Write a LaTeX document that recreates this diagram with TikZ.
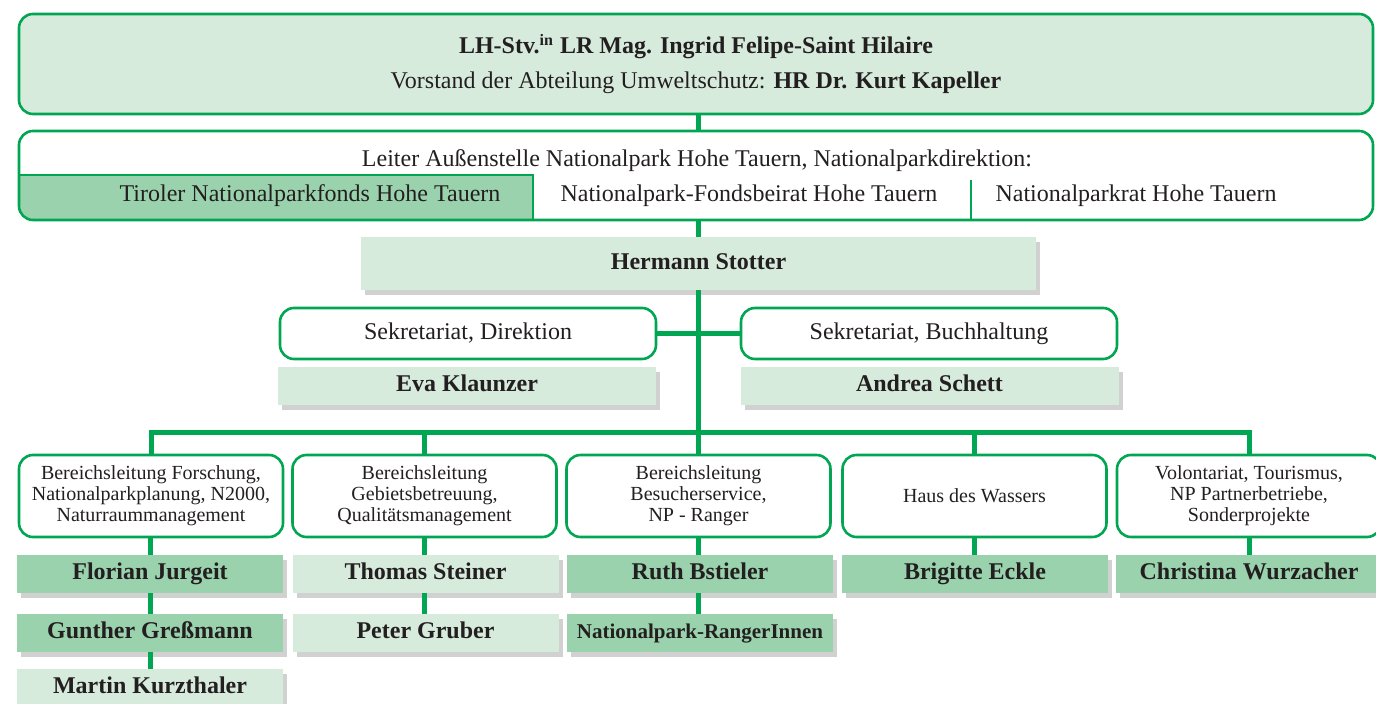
\documentclass[tikz,border=0pt]{standalone}
\usepackage{fontspec}
\setmainfont{Liberation Serif}
\usepackage{tikz}
\usetikzlibrary{positioning,shadows}
\definecolor{npgreen}{RGB}{0,166,81}
\definecolor{palegreen}{RGB}{215,235,221}
\definecolor{midgreen}{RGB}{153,210,172}
\definecolor{inkgray}{RGB}{35,31,32}
\tikzset{
  headbox/.style={draw=npgreen,line width=1.3pt,rounded corners=7pt,fill=palegreen,
    minimum width=677pt,minimum height=50pt,inner sep=0pt,align=center,text=inkgray,
    font=\fontsize{12}{17.5}\selectfont},
  leadbox/.style={draw=npgreen,line width=1.3pt,rounded corners=7pt,
    minimum width=677pt,minimum height=44.5pt,inner sep=0pt},
  celltext/.style={inner sep=0pt,text=inkgray,font=\fontsize{12}{14}\selectfont},
  cellline/.style={draw=npgreen,line width=1.3pt},
  officebox/.style={draw=npgreen,line width=1.3pt,rounded corners=7pt,fill=white,
    minimum width=188pt,minimum height=25.5pt,inner sep=0pt,text=inkgray,
    text height=8.5pt,text depth=2.6pt,font=\fontsize{12}{14}\selectfont},
  unitbox/.style={draw=npgreen,line width=1.3pt,rounded corners=7pt,fill=white,
    minimum width=132pt,minimum height=41pt,inner sep=0pt,align=center,text=inkgray,
    font=\fontsize{10}{10.5}\selectfont},
  namebox/.style={fill=palegreen,inner sep=0pt,minimum width=133pt,minimum height=19pt,
    text height=8.5pt,text depth=2.6pt,
    text=inkgray,font=\bfseries\fontsize{12}{14}\selectfont,
    drop shadow={shadow xshift=2pt,shadow yshift=-2.5pt,fill=black!45,opacity=0.4}},
  namedark/.style={namebox,fill=midgreen},
  spineline/.style={draw=npgreen,line width=2.5pt}
}

\begin{document}
\begin{tikzpicture}[x=0.5pt,y=-0.5pt]
  \useasboundingbox (0,0) rectangle (1376,704);
  % Landesregierung
  \node[headbox] (top) at (696,64)
    {\textbf{LH-Stv.\textsuperscript{in} LR Mag. Ingrid Felipe-Saint Hilaire}\\
     Vorstand der Abteilung Umweltschutz: \textbf{HR Dr. Kurt Kapeller}};
  % Nationalparkdirektion
  \begin{scope}
    \clip[rounded corners=7pt] (19,131) rectangle (1373,220);
    \fill[midgreen] (19,175) rectangle (533,220);
  \end{scope}
  \node[leadbox] (lead) at (696,175.5) {};
  \draw[cellline] (19,175) -- (533,175) -- (533,220);
  \draw[cellline] (971,180) -- (971,220);
  \node[celltext] (leadtitle) at (697,161)
    {Leiter Außenstelle Nationalpark Hohe Tauern, Nationalparkdirektion:};
  \node[celltext] (fonds) at (310,196) {Tiroler Nationalparkfonds Hohe Tauern};
  \node[celltext] (beirat) at (749,196) {Nationalpark-Fondsbeirat Hohe Tauern};
  \node[celltext] (rat) at (1136,196) {Nationalparkrat Hohe Tauern};
  % Direktor und Sekretariate
  \node[namebox,minimum width=337.5pt,minimum height=26.5pt] (hs) at (698.5,263.5) {Hermann Stotter};
  \node[officebox] (sekL) at (468,333.5) {Sekretariat, Direktion};
  \node[officebox] (sekR) at (929,333.5) {Sekretariat, Buchhaltung};
  \node[namebox,minimum width=189pt] (eva) at (467,386) {Eva Klaunzer};
  \node[namebox,minimum width=189pt] (andrea) at (929.5,386) {Andrea Schett};
  \coordinate (bus) at (698.5,433);
  % Bereiche
  \node[unitbox] (b1) at (151,496) {Bereichsleitung Forschung,\\Nationalparkplanung, N2000,\\Naturraummanagement};
  \node[unitbox] (b2) at (424.5,496) {Bereichsleitung\\Gebietsbetreuung,\\Qualitätsmanagement};
  \node[unitbox] (b3) at (698.5,496) {Bereichsleitung\\Besucherservice,\\NP - Ranger};
  \node[unitbox] (b4) at (974.5,496) {Haus des Wassers};
  \node[unitbox] (b5) at (1249,496) {Volontariat, Tourismus,\\NP Partnerbetriebe,\\Sonderprojekte};
  \node[namedark] (n11) at (150,574) {Florian Jurgeit};
  \node[namedark] (n12) at (150,633) {Gunther Greßmann};
  \node[namebox] (n13) at (150,688) {Martin Kurzthaler};
  \node[namebox] (n21) at (425.5,574) {Thomas Steiner};
  \node[namebox] (n22) at (425.5,633) {Peter Gruber};
  \node[namedark] (n31) at (700,574) {Ruth Bstieler};
  \node[namedark,text height=7.6pt,text depth=2.3pt,font=\bfseries\fontsize{10.5}{12}\selectfont] (n32) at (700,633) {Nationalpark-RangerInnen};
  \node[namedark] (n41) at (975,574) {Brigitte Eckle};
  \node[namedark] (n51) at (1249,574) {Christina Wurzacher};
  % Verbindungen
  \draw[spineline] (top.south -| hs) -- (lead.north -| hs);
  \draw[spineline] (lead.south -| hs) -- (hs.north);
  \draw[spineline] (hs.south) -- (bus);
  \draw[spineline] (sekL.east) -- (sekR.west);
  \draw[spineline] (b1.north) |- (bus) -| (b5.north);
  \foreach \unit in {b2,b3,b4}
    \draw[spineline] (\unit.north) -- (\unit.north |- bus);
  \draw[spineline] (b1.south -| n11) -- (n11.north);
  \draw[spineline] (n11.south) -- (n12.north);
  \draw[spineline] (n12.south) -- (n13.north);
  \draw[spineline] (b2.south) -- (b2.south |- n21.north);
  \draw[spineline] (n21.south -| b2) -- (n22.north -| b2);
  \draw[spineline] (b3.south) -- (b3.south |- n31.north);
  \draw[spineline] (n31.south -| b3) -- (n32.north -| b3);
  \draw[spineline] (b4.south) -- (b4.south |- n41.north);
  \draw[spineline] (b5.south) -- (b5.south |- n51.north);
\end{tikzpicture}
\end{document}
